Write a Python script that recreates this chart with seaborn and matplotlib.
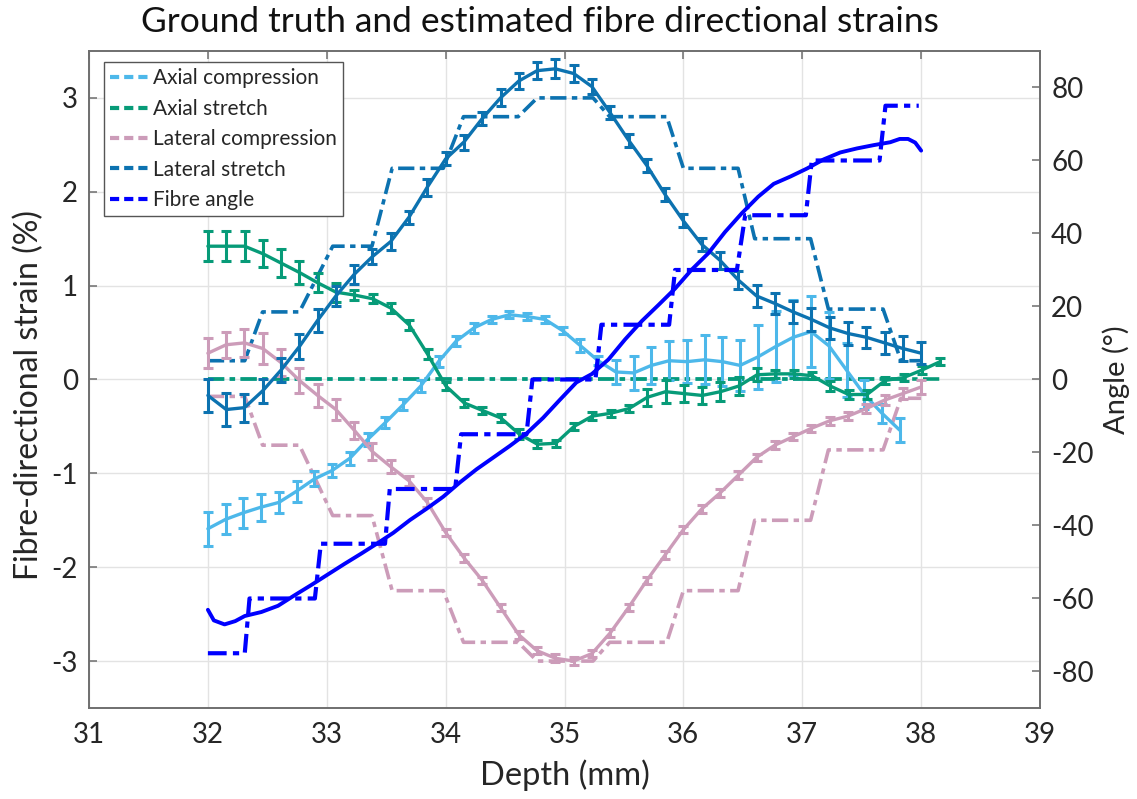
import numpy as np
import matplotlib
matplotlib.use("Agg")
import matplotlib.pyplot as plt
import seaborn as sns
from matplotlib.lines import Line2D

# ---------------- data ----------------
# Axial compression estimate (light blue)
ac_depth = np.linspace(32.0, 37.82, 40)
ac_val = [-1.59, -1.49, -1.42, -1.36, -1.31, -1.19, -1.06, -0.97, -0.84, -0.64,
          -0.46, -0.27, -0.07, 0.19, 0.41, 0.55, 0.64, 0.69, 0.67, 0.64,
          0.52, 0.36, 0.20, 0.08, 0.07, 0.15, 0.20, 0.19, 0.21, 0.19,
          0.15, 0.24, 0.35, 0.45, 0.51, 0.36, 0.10, -0.16, -0.36, -0.54]
ac_err = [0.18, 0.16, 0.16, 0.145, 0.11, 0.11, 0.08, 0.07, 0.07, 0.07,
          0.06, 0.06, 0.06, 0.06, 0.05, 0.05, 0.04, 0.04, 0.04, 0.04,
          0.04, 0.07, 0.05, 0.13, 0.18, 0.20, 0.21, 0.23, 0.26, 0.26,
          0.27, 0.34, 0.38, 0.40, 0.38, 0.36, 0.29, 0.15, 0.10, 0.13]

# Axial stretch estimate (green)
as_depth = np.linspace(32.0, 38.16, 41)
as_val = [1.42, 1.42, 1.42, 1.34, 1.24, 1.14, 1.03, 0.93, 0.90, 0.86,
          0.76, 0.58, 0.27, -0.07, -0.25, -0.33, -0.41, -0.58, -0.69, -0.68,
          -0.50, -0.39, -0.36, -0.31, -0.19, -0.13, -0.15, -0.17, -0.13, -0.07,
          0.05, 0.06, 0.06, 0.04, -0.07, -0.16, -0.16, -0.01, 0.02, 0.10, 0.19]
as_err = [0.16, 0.16, 0.16, 0.145, 0.15, 0.12, 0.10, 0.10, 0.05, 0.05,
          0.05, 0.05, 0.05, 0.04, 0.04, 0.04, 0.04, 0.05, 0.04, 0.04,
          0.04, 0.04, 0.04, 0.04, 0.09, 0.12, 0.09, 0.09, 0.10, 0.10,
          0.07, 0.04, 0.04, 0.04, 0.05, 0.05, 0.05, 0.04, 0.04, 0.04, 0.04]

# Lateral compression estimate (pink)
lc_depth = np.linspace(32.0, 38.0, 40)
lc_val = [0.28, 0.37, 0.39, 0.33, 0.18, -0.01, -0.17, -0.32, -0.54, -0.77,
          -0.93, -1.08, -1.31, -1.63, -1.90, -2.14, -2.43, -2.72, -2.89, -2.97,
          -3.00, -2.92, -2.70, -2.43, -2.14, -1.87, -1.60, -1.38, -1.21, -1.02,
          -0.83, -0.70, -0.61, -0.52, -0.44, -0.39, -0.31, -0.22, -0.15, -0.08]
lc_err = [0.16, 0.14, 0.15, 0.16, 0.14, 0.13, 0.12, 0.11, 0.09, 0.09,
          0.07, 0.055, 0.045, 0.04, 0.04, 0.04, 0.04, 0.04, 0.04, 0.04,
          0.04, 0.04, 0.04, 0.04, 0.04, 0.04, 0.04, 0.04, 0.04, 0.04,
          0.04, 0.04, 0.04, 0.04, 0.04, 0.045, 0.05, 0.05, 0.06, 0.07]

# Lateral stretch estimate (dark blue)
ls_depth = np.linspace(32.0, 38.0, 40)
ls_val = [-0.17, -0.32, -0.30, -0.12, 0.10, 0.35, 0.63, 0.89, 1.12, 1.31,
          1.47, 1.73, 2.05, 2.35, 2.53, 2.78, 3.00, 3.18, 3.29, 3.31,
          3.26, 3.12, 2.84, 2.55, 2.28, 1.97, 1.69, 1.44, 1.27, 1.06,
          0.89, 0.81, 0.72, 0.64, 0.55, 0.49, 0.45, 0.39, 0.33, 0.28]
ls_err = [0.18, 0.18, 0.15, 0.13, 0.13, 0.13, 0.12, 0.11, 0.10, 0.08,
          0.09, 0.07, 0.09, 0.07, 0.08, 0.07, 0.09, 0.09, 0.09, 0.10,
          0.09, 0.08, 0.07, 0.07, 0.07, 0.07, 0.07, 0.07, 0.09, 0.10,
          0.12, 0.11, 0.12, 0.12, 0.12, 0.12, 0.11, 0.12, 0.13, 0.12]

# Ground truths for lateral strains
lat_gt_depth = [32.0, 32.31, 32.46, 32.77, 33.05, 33.38, 33.55, 33.98, 34.15, 34.61, 34.77,
                35.24, 35.38, 35.86, 36.0, 36.46, 36.6, 37.07, 37.22, 37.68, 37.83, 38.0]
ls_gt = [0.2, 0.2, 0.72, 0.72, 1.42, 1.42, 2.25, 2.25, 2.8, 2.8, 3.0,
         3.0, 2.8, 2.8, 2.25, 2.25, 1.5, 1.5, 0.75, 0.75, 0.2, 0.2]
lc_gt = [-0.18, -0.18, -0.7, -0.7, -1.45, -1.45, -2.25, -2.25, -2.8, -2.8, -3.0,
         -3.0, -2.8, -2.8, -2.25, -2.25, -1.5, -1.5, -0.75, -0.75, -0.2, -0.2]
# Ground truths for axial strains
ac_gt_depth = [32.0, 37.82]
ac_gt = [0.0, 0.0]
as_gt_depth = [32.0, 38.16]
as_gt = [0.0, 0.0]

# Fibre angle (right axis)
fa_depth = [32.0, 32.05, 32.14, 32.23, 32.31, 32.45, 32.59, 32.73, 32.87, 33.01,
            33.15, 33.29, 33.43, 33.56, 33.70, 33.84, 33.98, 34.12, 34.26, 34.40,
            34.54, 34.68, 34.82, 34.96, 35.10, 35.23, 35.37, 35.51, 35.65, 35.79,
            35.93, 36.07, 36.21, 36.35, 36.49, 36.63, 36.76, 36.90, 37.04, 37.18,
            37.32, 37.46, 37.60, 37.74, 37.82, 37.89, 37.95, 38.0]
fa_val = [-63.1, -66.0, -67.1, -66.2, -64.8, -63.7, -62.0, -59.1, -56.3, -53.4,
          -50.5, -47.7, -44.8, -42.0, -38.5, -35.4, -32.1, -28.2, -24.6, -21.4,
          -18.2, -14.8, -10.5, -5.6, -0.8, 1.5, 5.5, 11.0, 16.0, 20.4,
          24.9, 30.1, 34.6, 40.4, 45.5, 50.1, 53.6, 55.6, 57.8, 60.3,
          62.2, 63.3, 64.2, 65.0, 65.9, 65.9, 64.9, 62.7]
fa_gt_depth = [32.0, 32.31, 32.35, 32.90, 32.95, 33.49, 33.53, 34.08, 34.13, 34.68, 34.73,
               35.26, 35.31, 35.88, 35.93, 36.45, 36.52, 37.03, 37.08, 37.65, 37.70, 37.98]
fa_gt = [-75, -75, -60, -60, -45, -45, -30, -30, -15, -15, 0,
         0, 15, 15, 30, 30, 45, 45, 60, 60, 75, 75]

labels = ["Axial compression", "Axial stretch", "Lateral compression",
          "Lateral stretch", "Fibre angle"]
colors = ["#4DB8EA", "#079B78", "#CC9CB9", "#0C72B0", "#0000FF"]

x_ticks = list(range(31, 40))
y_ticks = [-3, -2, -1, 0, 1, 2, 3]
a_ticks = [-80, -60, -40, -20, 0, 20, 40, 60, 80]

# ---------------- style ----------------
sns.set_theme(style="white")
plt.rcParams['font.family'] = ['Lato', 'DejaVu Sans']
plt.rcParams['axes.unicode_minus'] = False

fig = plt.figure(figsize=(11.37, 7.99), dpi=100)
ax = fig.add_axes([0.0783, 0.1139, 0.8364, 0.8223])
ax2 = ax.twinx()

gt_ls = (0, (4.5, 1.5, 1.5, 1.5))
lw_gt = 2.6
lw_est = 2.4

# ground truths (left axis)
sns.lineplot(x=ac_gt_depth, y=ac_gt, ax=ax, color=colors[0], linewidth=lw_gt,
             linestyle=gt_ls, estimator=None, sort=False, legend=False)
sns.lineplot(x=as_gt_depth, y=as_gt, ax=ax, color=colors[1], linewidth=lw_gt,
             linestyle=gt_ls, estimator=None, sort=False, legend=False)
sns.lineplot(x=lat_gt_depth, y=lc_gt, ax=ax, color=colors[2], linewidth=lw_gt,
             linestyle=gt_ls, estimator=None, sort=False, legend=False)
sns.lineplot(x=lat_gt_depth, y=ls_gt, ax=ax, color=colors[3], linewidth=lw_gt,
             linestyle=gt_ls, estimator=None, sort=False, legend=False)

# estimates with error bars
for d, v, e, c in [(ac_depth, ac_val, ac_err, colors[0]),
                   (as_depth, as_val, as_err, colors[1]),
                   (lc_depth, lc_val, lc_err, colors[2]),
                   (ls_depth, ls_val, ls_err, colors[3])]:
    sns.lineplot(x=d, y=v, ax=ax, color=c, linewidth=lw_est,
                 estimator=None, sort=False, legend=False)
    ax.errorbar(d, v, yerr=e, fmt='none', ecolor=c, elinewidth=2.2,
                capsize=3.6, capthick=2.2)

# fibre angle (right axis)
sns.lineplot(x=fa_gt_depth, y=fa_gt, ax=ax2, color=colors[4], linewidth=lw_gt + 0.4,
             linestyle=gt_ls, estimator=None, sort=False, legend=False)
sns.lineplot(x=fa_depth, y=fa_val, ax=ax2, color=colors[4], linewidth=lw_est + 0.4,
             estimator=None, sort=False, legend=False)

# axes settings
ax.set_xlim(31, 39)
ax.set_ylim(-3.5, 3.5)
ax2.set_ylim(-90, 90)
ax.set_xticks(x_ticks)
ax.set_yticks(y_ticks)
ax2.set_yticks(a_ticks)
ax.set_xticklabels([str(t) for t in x_ticks])
ax.set_yticklabels([str(t) for t in y_ticks])
ax2.set_yticklabels([str(t) for t in a_ticks])

ax.grid(True, color="#e3e3e3", linewidth=1.0)
ax.set_axisbelow(True)
ax2.grid(False)

tick_col = "#262626"
for a in (ax, ax2):
    for s in a.spines.values():
        s.set_color("#6e6e6e")
        s.set_linewidth(1.2)
ax.tick_params(axis='both', direction='in', length=6, width=1.1, color="#6e6e6e",
               labelsize=20, labelcolor=tick_col, pad=8)
ax.tick_params(axis='x', top=True, pad=10)
ax.tick_params(axis='y', right=False)
ax2.tick_params(axis='y', direction='in', length=6, width=1.1, color="#6e6e6e",
                labelsize=20, labelcolor=tick_col, pad=8)

ax.set_xlabel("Depth (mm)", fontsize=23.5, color=tick_col, labelpad=8)
ax.set_ylabel("Fibre-directional strain (%)", fontsize=23, color=tick_col)
ax.yaxis.set_label_coords(-0.047, 0.476)
ax2.set_ylabel("Angle (°)", fontsize=21, color=tick_col)
ax2.yaxis.set_label_coords(1.066, 0.5)

fig.text(540 / 1137, 1 - 22 / 799, "Ground truth and estimated fibre directional strains",
         ha='center', va='center', fontsize=25.5, color="#111111")

handles = [Line2D([0], [0], color=c, lw=3, linestyle=(0, (2.2, 1.2))) for c in colors]
leg = ax2.legend(handles, labels, loc='upper left', bbox_to_anchor=(0.016, 0.983),
                 fontsize=15, frameon=True, fancybox=False, framealpha=1,
                 edgecolor="#555555", handlelength=1.9, handletextpad=0.15,
                 labelspacing=0.5, borderpad=0.3, borderaxespad=0.0)
leg.get_frame().set_linewidth(1.0)

fig.savefig("out.png", dpi=100)
